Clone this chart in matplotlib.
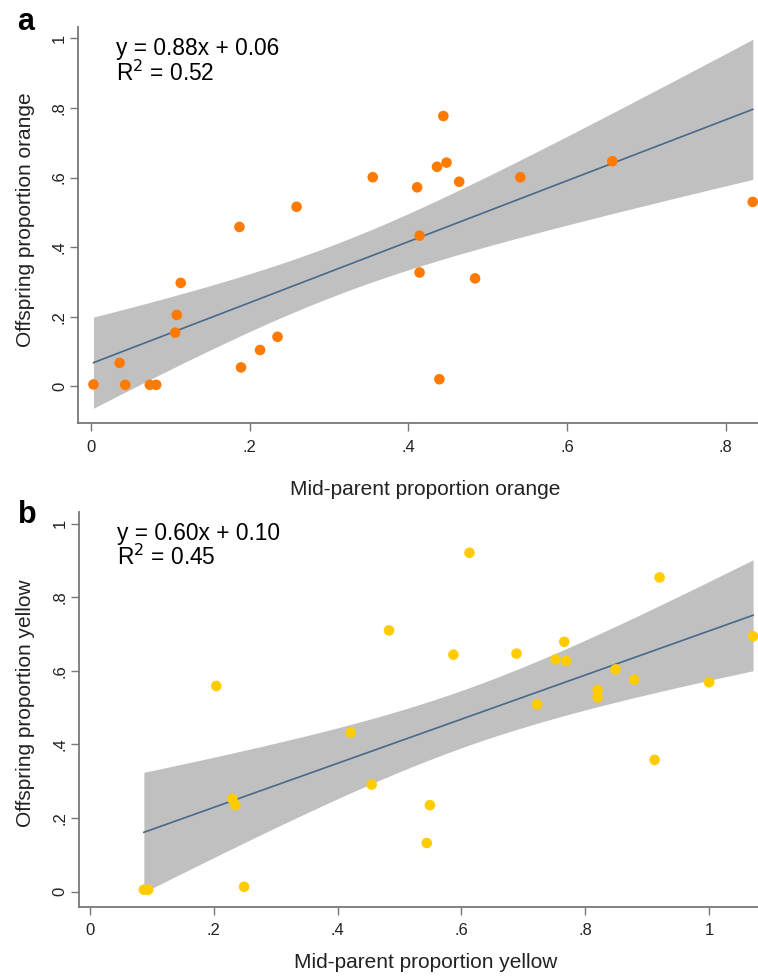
import numpy as np
import matplotlib
matplotlib.use("Agg")
import matplotlib.pyplot as plt

plt.rcParams["font.family"] = ["Liberation Sans", "DejaVu Sans"]

# panel a: orange
orange_x = [0.003, 0.036, 0.043, 0.074, 0.082, 0.106, 0.108, 0.113, 0.187, 0.189,
            0.213, 0.235, 0.259, 0.355, 0.411, 0.414, 0.414, 0.436, 0.439, 0.444,
            0.448, 0.464, 0.484, 0.541, 0.657, 0.834]
orange_y = [0.005, 0.067, 0.004, 0.004, 0.004, 0.154, 0.205, 0.297, 0.458, 0.054,
            0.104, 0.142, 0.516, 0.601, 0.572, 0.433, 0.327, 0.631, 0.020, 0.777,
            0.643, 0.588, 0.310, 0.601, 0.647, 0.530]

# panel b: yellow
yellow_x = [0.087, 0.094, 0.204, 0.230, 0.235, 0.249, 0.421, 0.455, 0.483, 0.544,
            0.549, 0.587, 0.613, 0.689, 0.722, 0.752, 0.766, 0.769, 0.820, 0.820,
            0.849, 0.879, 0.912, 0.920, 1.000, 1.071]
yellow_y = [0.005, 0.005, 0.559, 0.252, 0.235, 0.013, 0.432, 0.291, 0.710, 0.132,
            0.235, 0.644, 0.921, 0.647, 0.509, 0.631, 0.679, 0.627, 0.548, 0.528,
            0.604, 0.576, 0.358, 0.854, 0.569, 0.694]

x_ticks_a = [0, 0.2, 0.4, 0.6, 0.8]
x_ticks_b = [0, 0.2, 0.4, 0.6, 0.8, 1.0]
y_ticks = [0, 0.2, 0.4, 0.6, 0.8, 1.0]


def stata_label(v):
    s = "%g" % v
    return s[1:] if s.startswith("0.") else s


def fit_panel(ax, x, y, color, eq, r2, xlab, ylab, xticks, xlim, ylim, xlab_y, ylab_x):
    x = np.array(x)
    y = np.array(y)
    n = len(x)
    b, a = np.polyfit(x, y, 1)
    resid = y - (a + b * x)
    s = np.sqrt(np.sum(resid ** 2) / (n - 2))
    sxx = np.sum((x - x.mean()) ** 2)
    xs = np.linspace(x.min(), x.max(), 200)
    yhat = a + b * xs
    se = s * np.sqrt(1.0 / n + (xs - x.mean()) ** 2 / sxx)
    t = 2.064  # t(0.975, 24)
    ax.fill_between(xs, yhat - t * se, yhat + t * se, color="#c0c0c0", lw=0, zorder=1)
    ax.plot(xs, yhat, color="#48698a", lw=1.2, zorder=2)
    ax.scatter(x, y, s=58, color=color, edgecolors="none", zorder=3, clip_on=False)

    ax.set_xlim(*xlim)
    ax.set_ylim(*ylim)
    ax.set_xticks(xticks)
    ax.set_xticklabels([stata_label(v) for v in xticks])
    ax.set_yticks(y_ticks)
    ax.set_yticklabels([stata_label(v) for v in y_ticks], rotation=90, va="center")
    for side in ["top", "right"]:
        ax.spines[side].set_visible(False)
    for side in ["left", "bottom"]:
        ax.spines[side].set_color("#777777")
        ax.spines[side].set_linewidth(1.3)
    ax.tick_params(colors="#777777", labelcolor="#222222", labelsize=12,
                   length=6, width=1.0, direction="out", pad=6)
    ax.tick_params(axis="y", pad=2)
    ax.set_xlabel(xlab, fontsize=15, color="#222222", va="center")
    ax.xaxis.set_label_coords(0.51, xlab_y)
    ax.set_ylabel(ylab, fontsize=15, color="#222222", va="center")
    ax.yaxis.set_label_coords(ylab_x, 0.515)
    ax.text(0.056, 0.975, eq + "\n" + r2, transform=ax.transAxes, fontsize=16.4,
            va="top", ha="left", linespacing=1.0)


fig = plt.figure(figsize=(7.58, 9.77), dpi=100)
ax1 = fig.add_axes([0.103, 0.567, 0.897, 0.405])
ax2 = fig.add_axes([0.104, 0.072, 0.896, 0.404])

fit_panel(ax1, orange_x, orange_y, "#ff7a00", "y = 0.88x + 0.06", "R$^2$ = 0.52",
          "Mid-parent proportion orange", "Offspring proportion orange",
          x_ticks_a, (-0.0164, 0.8406), (-0.106, 1.032), -0.169, -0.078)
fit_panel(ax2, yellow_x, yellow_y, "#ffcc00", "y = 0.60x + 0.10", "R$^2$ = 0.45",
          "Mid-parent proportion yellow", "Offspring proportion yellow",
          x_ticks_b, (-0.018, 1.079), (-0.041, 1.032), -0.1425, -0.078)

fig.text(17 / 758, 1 - 30 / 977, "a", fontsize=22, fontweight="bold", va="baseline")
fig.text(18 / 758, 1 - 523 / 977, "b", fontsize=22, fontweight="bold", va="baseline")

fig.savefig("out.png", dpi=100)
